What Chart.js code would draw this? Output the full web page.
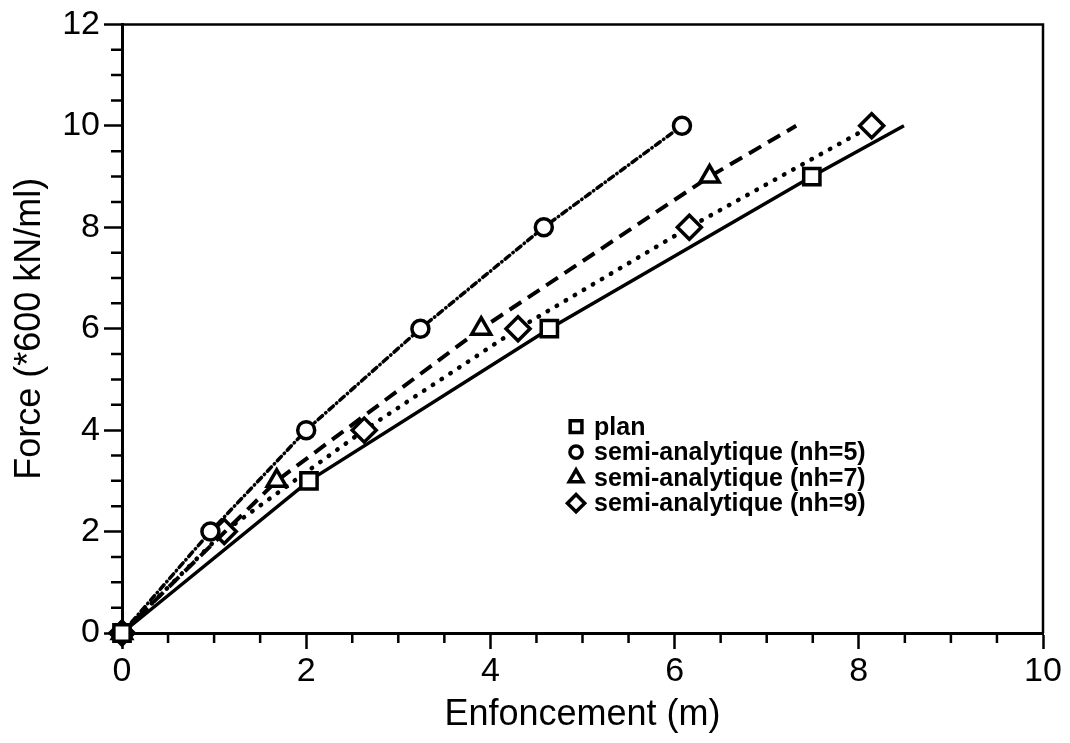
<!DOCTYPE html>
<html lang="fr">
<head>
    <meta charset="UTF-8">
    <title>Force - Enfoncement</title>
    <script src="https://cdn.jsdelivr.net/npm/chart.js"></script>
    <style>
        body {
            margin: 0;
            padding: 0;
            background: #fff;
        }
        #wrap {
            width: 1070px;
            height: 743px;
        }
    </style>
</head>
<body>
    <div id="wrap"><canvas id="forceChart" width="1070" height="743"></canvas></div>

    <script>
        // values
        const planX = [0, 2.03, 4.64, 7.49, 8.49];
        const planY = [0, 3, 6, 9, 10];
        const planMarked = [1, 1, 1, 1, 0];

        const nh5X = [0, 0.96, 2.0, 3.24, 4.58, 6.08];
        const nh5Y = [0, 2, 4, 6, 8, 10];
        const nh5Marked = [1, 1, 1, 1, 1, 1];

        const nh7X = [0, 1.68, 3.9, 6.38, 7.32];
        const nh7Y = [0, 3, 6, 9, 10];
        const nh7Marked = [1, 1, 1, 1, 0];

        const nh9X = [0, 1.11, 2.63, 4.3, 6.16, 8.14];
        const nh9Y = [0, 2, 4, 6, 8, 10];
        const nh9Marked = [1, 1, 1, 1, 1, 1];

        const seriesLabels = ['plan', 'semi-analytique (nh=5)', 'semi-analytique (nh=7)', 'semi-analytique (nh=9)'];

        const xTicks = [0, 2, 4, 6, 8, 10];
        const yTicks = [0, 2, 4, 6, 8, 10, 12];

        const FONT = "'Liberation Sans', Arial, sans-serif";

        function toPoints(xs, ys) {
            return xs.map((x, i) => ({ x: x, y: ys[i] }));
        }

        function makeSet(label, xs, ys, marked, style, radius, dash, width, cap) {
            return {
                label: label,
                data: toPoints(xs, ys),
                borderColor: '#000',
                borderWidth: width,
                borderDash: dash,
                borderCapStyle: cap,
                pointStyle: style,
                pointRadius: ctx => marked[ctx.dataIndex] ? radius : 0,
                pointBorderWidth: 3.5,
                pointBorderColor: '#000',
                pointBackgroundColor: '#fff',
                legendRadius: radius * 0.72,
                showLine: true,
                fill: false,
                tension: 0,
                clip: false
            };
        }

        // minor ticks, top/right frame and in-plot legend
        const decorPlugin = {
            id: 'decor',
            afterDraw(chart) {
                const ctx = chart.ctx;
                const xs = chart.scales.x;
                const ys = chart.scales.y;
                const area = chart.chartArea;
                ctx.save();
                ctx.strokeStyle = '#000';
                ctx.lineWidth = 2.5;
                ctx.beginPath();
                for (let v = 0.5; v < 10; v += 0.5) {
                    if (v % 2 === 0) continue;
                    const px = xs.getPixelForValue(v);
                    ctx.moveTo(px, area.bottom);
                    ctx.lineTo(px, area.bottom + 10);
                }
                for (let v = 0.5; v < 12; v += 0.5) {
                    if (v % 2 === 0) continue;
                    const py = ys.getPixelForValue(v);
                    ctx.moveTo(area.left, py);
                    ctx.lineTo(area.left - 11, py);
                }
                ctx.stroke();

                // top and right border
                ctx.lineWidth = 2.5;
                ctx.beginPath();
                ctx.moveTo(area.left, area.top);
                ctx.lineTo(area.right, area.top);
                ctx.lineTo(area.right, area.bottom);
                ctx.stroke();

                // legend
                const lx = area.left + 0.493 * (area.right - area.left);
                let ly = area.top + 0.661 * (area.bottom - area.top);
                ctx.font = 'bold 25px ' + FONT;
                ctx.textBaseline = 'middle';
                ctx.fillStyle = '#000';
                chart.data.datasets.forEach(ds => {
                    ctx.lineWidth = 3.5;
                    ctx.strokeStyle = '#000';
                    ctx.fillStyle = '#fff';
                    Chart.helpers.drawPoint(ctx, {
                        pointStyle: ds.pointStyle,
                        radius: ds.legendRadius,
                        rotation: 0,
                        borderWidth: 3.5
                    }, lx, ly);
                    ctx.fillStyle = '#000';
                    ctx.fillText(ds.label, lx + 18, ly + 1);
                    ly += 25.5;
                });
                ctx.restore();
            }
        };

        const ctx = document.getElementById('forceChart').getContext('2d');
        new Chart(ctx, {
            type: 'scatter',
            data: {
                datasets: [
                    makeSet(seriesLabels[0], planX, planY, planMarked, 'rect', 11.5, [], 3.5, 'butt'),
                    makeSet(seriesLabels[1], nh5X, nh5Y, nh5Marked, 'circle', 8.5, [6, 4, 0.5, 4], 3.5, 'round'),
                    makeSet(seriesLabels[2], nh7X, nh7Y, nh7Marked, 'triangle', 11, [14, 8], 4, 'butt'),
                    makeSet(seriesLabels[3], nh9X, nh9Y, nh9Marked, 'rectRot', 12, [0.5, 10], 4.5, 'round')
                ]
            },
            options: {
                responsive: false,
                animation: false,
                layout: {
                    padding: { top: 23, right: 27, left: 0, bottom: 0 }
                },
                plugins: {
                    legend: { display: false },
                    tooltip: { enabled: false }
                },
                scales: {
                    x: {
                        type: 'linear',
                        min: 0,
                        max: 10,
                        afterBuildTicks: axis => { axis.ticks = xTicks.map(v => ({ value: v })); },
                        afterFit: axis => { axis.height = 743 - 633; },
                        ticks: {
                            color: '#000',
                            padding: 2,
                            font: { family: FONT, size: 34 }
                        },
                        grid: {
                            drawOnChartArea: false,
                            drawTicks: true,
                            tickLength: 16,
                            tickWidth: 2.5,
                            tickColor: '#000'
                        },
                        border: { color: '#000', width: 3 },
                        title: {
                            display: true,
                            text: 'Enfoncement (m)',
                            color: '#000',
                            font: { family: FONT, size: 36 },
                            padding: { top: 0, bottom: 6 }
                        }
                    },
                    y: {
                        type: 'linear',
                        min: 0,
                        max: 12,
                        afterBuildTicks: axis => { axis.ticks = yTicks.map(v => ({ value: v })); },
                        afterFit: axis => { axis.width = 122; },
                        ticks: {
                            color: '#000',
                            padding: 4,
                            font: { family: FONT, size: 34 }
                        },
                        grid: {
                            drawOnChartArea: false,
                            drawTicks: true,
                            tickLength: 18,
                            tickWidth: 2.5,
                            tickColor: '#000'
                        },
                        border: { color: '#000', width: 3 },
                        title: {
                            display: true,
                            text: 'Force (*600 kN/ml)',
                            color: '#000',
                            font: { family: FONT, size: 36 },
                            padding: { top: 8, bottom: 0 }
                        }
                    }
                }
            },
            plugins: [decorPlugin]
        });
    </script>
</body>
</html>
